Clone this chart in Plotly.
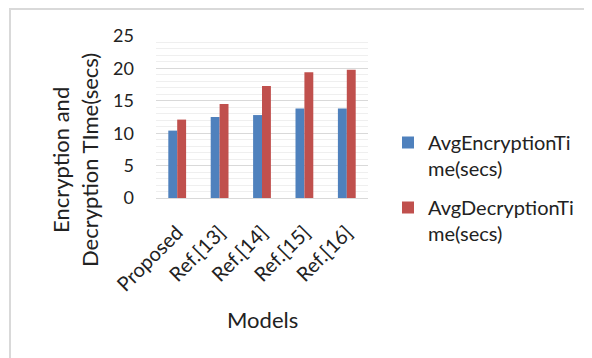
import plotly.graph_objects as go

categories = ["Proposed", "Ref.[13]", "Ref.[14]", "Ref.[15]", "Ref.[16]"]
enc_times = [10.4, 12.5, 12.8, 13.8, 13.8]
dec_times = [12.1, 14.5, 17.3, 19.4, 19.8]
series_names = ["AvgEncryptionTi<br>me(secs)", "AvgDecryptionTi<br>me(secs)"]
y_ticks = [0, 5, 10, 15, 20, 25]
y_title = "Encryption and<br>Decryption TIme(secs)"
x_title = "Models"

FONT = "Lato, Open Sans, sans-serif"

# page offset compensation (body margin 8px): plot area on page x 156..368, y 36..198
PL, PR, PT, PB = 156, 368, 36, 198
def px(x):
    return (x - PL) / (PR - PL)
def py(y):
    return (PB - y) / (PB - PT)

fig = go.Figure()
fig.add_trace(go.Bar(x=categories, y=enc_times, name=series_names[0], legendgroup="enc",
                     marker=dict(color="#4F81BD", line=dict(width=0))))
fig.add_trace(go.Bar(x=categories, y=dec_times, name=series_names[1], legendgroup="dec",
                     marker=dict(color="#C0504D", line=dict(width=0))))

fig.update_layout(
    width=584, height=350,
    margin=dict(l=148, r=224, t=28, b=160, autoexpand=False),
    paper_bgcolor="white", plot_bgcolor="white",
    barmode="group", bargap=0.58, bargroupgap=0,
    font=dict(family=FONT, size=16, color="#222222"),
    showlegend=True,
    legend=dict(x=px(388), y=py(123), xanchor="left", yanchor="top",
                font=dict(size=20, color="#222222"), valign="top",
                tracegroupgap=10, itemwidth=30, bgcolor="rgba(0,0,0,0)"),
    xaxis=dict(
        showgrid=False, showline=True, linecolor="#d9d9d9", linewidth=1,
        tickangle=-45, tickfont=dict(size=20), ticks="", ticklabelstandoff=14,
    ),
    yaxis=dict(
        range=[0, 25], tickvals=y_ticks, showline=False, zeroline=False,
        showgrid=True, gridcolor="#d9d9d9", gridwidth=1,
        minor=dict(dtick=1, showgrid=True, gridcolor="#efefef", gridwidth=1),
        tickfont=dict(size=18), ticks="", ticklabelstandoff=21,
    ),
    annotations=[
        dict(text=y_title, textangle=-90, xref="paper", yref="paper",
             x=px(75), y=py(160), xanchor="center", yanchor="middle",
             showarrow=False, font=dict(size=22, color="#222222")),
        dict(text=x_title, xref="paper", yref="paper",
             x=px(262), y=py(319), xanchor="center", yanchor="middle",
             showarrow=False, font=dict(size=22, color="#222222")),
    ],
    shapes=[dict(type="rect", xref="paper", yref="paper",
                 x0=px(10), x1=px(620), y0=py(400), y1=py(9),
                 line=dict(color="#d9d9d9", width=2), layer="below")],
)

fig.write_html("out.html")
